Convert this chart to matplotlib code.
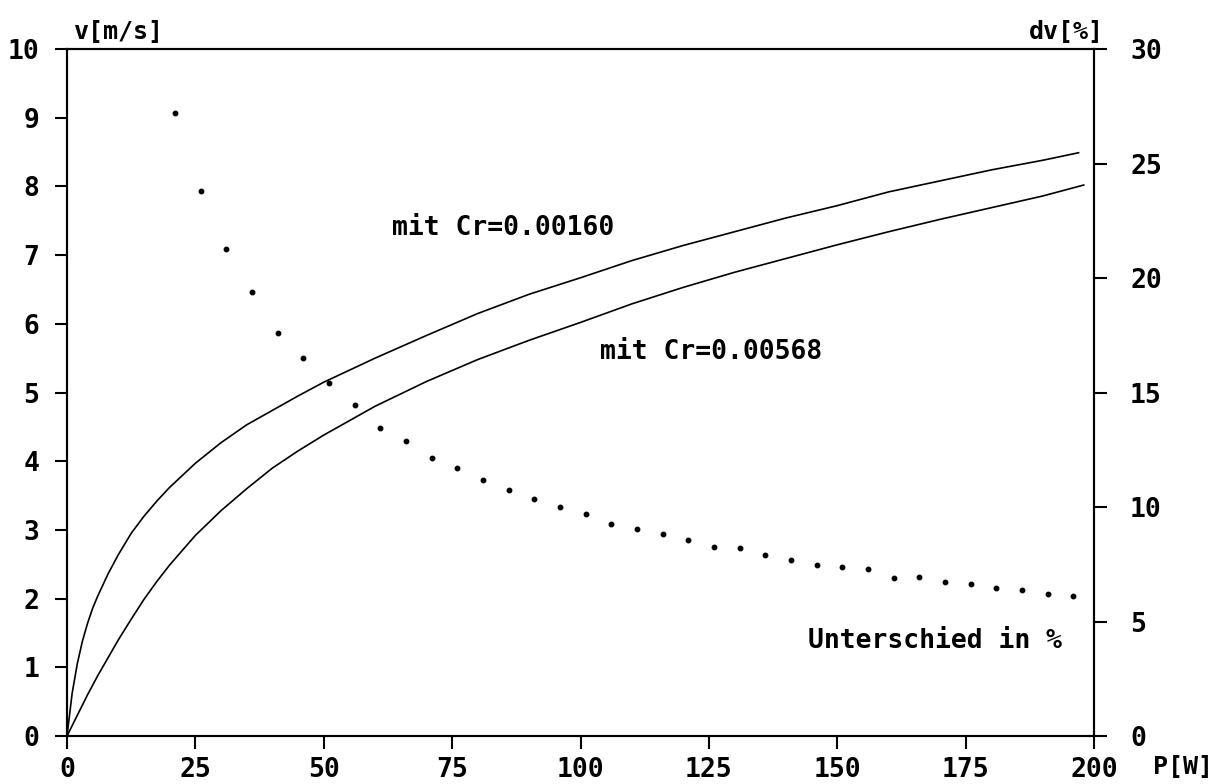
import numpy as np
import matplotlib
matplotlib.use("Agg")
import matplotlib.pyplot as plt

# --- data ---
# v over P for the two rolling coefficients
p_low_cr = [0, 1, 2, 3, 4, 5, 6, 8, 10, 12.5, 15, 17.5, 20, 25, 30, 35, 40, 45, 50,
            60, 70, 80, 90, 100, 110, 120, 130, 140, 150, 160, 170, 180, 190, 197]
v_low_cr = [0, 0.62, 1.05, 1.38, 1.64, 1.86, 2.04, 2.36, 2.64, 2.95, 3.2, 3.42, 3.62,
            3.97, 4.27, 4.53, 4.74, 4.95, 5.15, 5.5, 5.83, 6.15, 6.43, 6.67, 6.92,
            7.14, 7.34, 7.54, 7.72, 7.92, 8.08, 8.24, 8.38, 8.49]

p_high_cr = [0, 2, 4, 6, 8, 10, 12.5, 15, 17.5, 20, 25, 30, 35, 40, 45, 50,
             60, 70, 80, 90, 100, 110, 120, 130, 140, 150, 160, 170, 180, 190, 198]
v_high_cr = [0, 0.3, 0.6, 0.88, 1.14, 1.4, 1.7, 1.99, 2.25, 2.49, 2.92, 3.28, 3.6,
             3.9, 4.15, 4.38, 4.8, 5.16, 5.48, 5.76, 6.02, 6.29, 6.53, 6.75, 6.95,
             7.15, 7.34, 7.52, 7.69, 7.86, 8.02]

# difference in percent (dotted series, right axis)
p_diff = list(range(21, 197, 5))
dv_pct = [27.2, 23.8, 21.25, 19.4, 17.6, 16.5, 15.4, 14.45, 13.45, 12.9, 12.15, 11.7,
          11.2, 10.75, 10.35, 10.0, 9.7, 9.25, 9.05, 8.8, 8.55, 8.25, 8.2, 7.9, 7.7,
          7.47, 7.38, 7.29, 6.9, 6.94, 6.72, 6.64, 6.46, 6.37, 6.2, 6.11]

x_ticks = [0, 25, 50, 75, 100, 125, 150, 175, 200]
v_ticks = list(range(0, 11))
dv_ticks = [0, 5, 10, 15, 20, 25, 30]

FONT = "DejaVu Sans Mono"
plt.rcParams["font.family"] = FONT
plt.rcParams["font.weight"] = "bold"

fig = plt.figure(figsize=(12.28, 7.84), dpi=100)
ax = fig.add_axes([67 / 1228, 1 - 736 / 784, (1094 - 67) / 1228, (736 - 49) / 784])
ax2 = ax.twinx()

ax.plot(p_low_cr, v_low_cr, color="black", lw=1.2)
ax.plot(p_high_cr, v_high_cr, color="black", lw=1.2)
ax2.plot(p_diff, dv_pct, linestyle="none", marker="o", ms=3.2, color="black")

ax.set_xlim(0, 200)
ax.set_ylim(0, 10)
ax2.set_ylim(0, 30)
ax.set_xticks(x_ticks)
ax.set_yticks(v_ticks)
ax2.set_yticks(dv_ticks)

for a in (ax, ax2):
    for s in a.spines.values():
        s.set_linewidth(1.5)

ax.tick_params(axis="x", direction="out", length=9, width=1.5, pad=6, labelsize=19)
ax.tick_params(axis="y", direction="out", length=9, width=1.5, pad=11, labelsize=19)
ax2.tick_params(axis="y", direction="out", length=9, width=1.5, pad=17, labelsize=19)

ax.text(63.3, 7.39, "mit Cr=0.00160", fontsize=19, va="center", ha="left")
ax.text(103.8, 5.59, "mit Cr=0.00568", fontsize=19, va="center", ha="left")
ax.text(144.3, 1.38, "Unterschied in %", fontsize=19, va="center", ha="left")

# axis names written like the plotter did, at the axis ends
ax.text(1.2, 10.08, "v[m/s]", fontsize=18, va="bottom", ha="left")
ax.text(202, 10.08, "dv[%]", fontsize=18, va="bottom", ha="right")
ax.text(211.5, -0.27, "P[W]", fontsize=18, va="top", ha="left", clip_on=False)

fig.savefig("out.png", dpi=100)
